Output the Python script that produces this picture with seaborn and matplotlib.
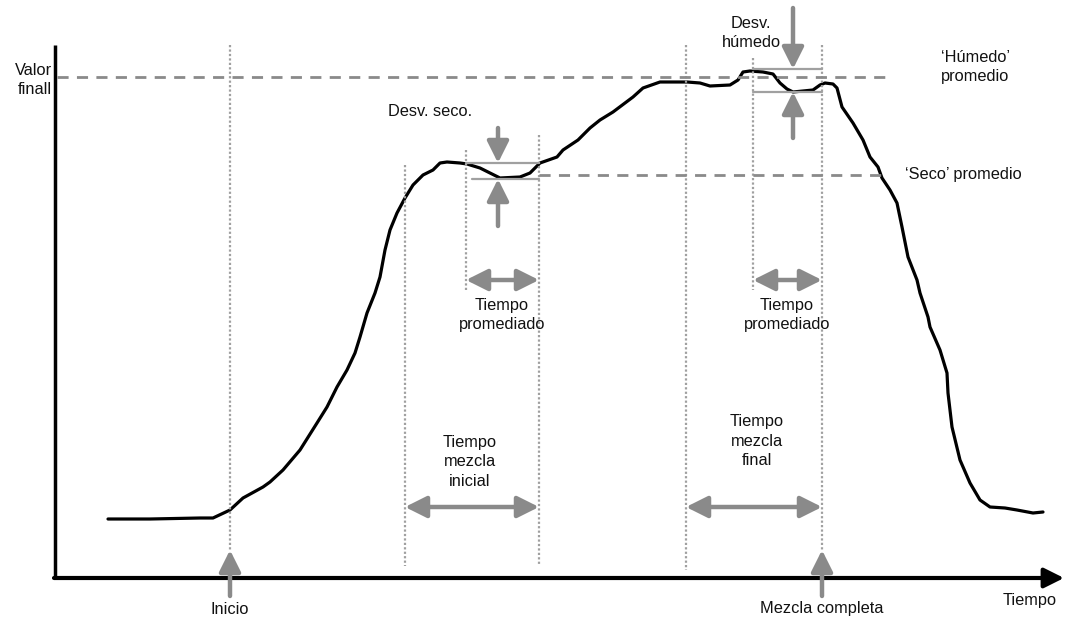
import numpy as np
import matplotlib
matplotlib.use("Agg")
import matplotlib.pyplot as plt
import seaborn as sns
import pandas as pd

# signal trace (pixel-like units, y grows downward)
tiempo = [108, 150, 200, 213, 230, 243, 263, 270, 283, 300, 317, 327, 337, 347, 355, 360,
          367, 375, 380, 385, 390, 397, 405, 413, 423, 433, 440, 447, 460, 467, 480, 500,
          520, 530, 540, 557, 563, 578, 590, 600, 613, 633, 643, 660, 687, 700, 710, 730,
          738, 743, 750, 763, 773, 780, 787, 793, 813, 820, 825, 833, 837, 842, 853, 863,
          870, 878, 882, 890, 897, 902, 908, 917, 920, 928, 930, 940, 947, 948, 952, 960,
          970, 980, 990, 1005, 1017, 1033, 1043]
valor = [519, 519, 518, 518, 510, 498, 487, 482, 470, 450, 423, 407, 387, 370, 353, 337,
         313, 293, 277, 250, 230, 213, 198, 185, 175, 170, 163, 162, 163, 164, 168, 178,
         177, 173, 163, 157, 150, 140, 128, 120, 112, 97, 88, 82, 82, 83, 86, 85,
         80, 72, 71, 72, 74, 83, 89, 92, 90, 85, 83, 84, 88, 107, 123, 140,
         157, 167, 178, 190, 203, 227, 257, 280, 293, 317, 327, 350, 373, 393, 427, 460,
         483, 500, 507, 508, 510, 513, 512]

# marker times (vertical guides) and levels
t_inicio, t_ini_a, t_seco_a, t_ini_b = 230, 405, 466, 539
t_fin_a, t_hum_a, t_completa = 686, 753, 822
nivel_humedo, nivel_seco = 77, 175
seco_max, seco_min = 163, 179
humedo_max, humedo_min = 69, 92

gris = "#8a8a8a"
gris_linea = "#a0a0a0"

sns.set_style("white")
plt.rcParams["font.family"] = ["Liberation Sans", "DejaVu Sans"]

fig = plt.figure(figsize=(10.69, 6.27), dpi=100)
ax = fig.add_axes([0, 0, 1, 1])
ax.set_xlim(0, 1069)
ax.set_ylim(627, 0)
ax.axis("off")

df = pd.DataFrame({"tiempo": tiempo, "valor": valor})
sns.lineplot(data=df, x="tiempo", y="valor", sort=False, estimator=None,
             color="black", lw=2.3, ax=ax)

# axes drawn as arrows
ax.plot([55, 55], [45, 579], color="black", lw=2.5, solid_capstyle="butt")
ax.annotate("", xy=(1064, 578), xytext=(54, 578),
            arrowprops=dict(arrowstyle="-|>,head_length=1.2,head_width=0.6",
                            color="black", lw=3, shrinkA=0, shrinkB=0))

# vertical dotted guides
guias = [(t_inicio, 45, 550), (t_ini_a, 165, 566), (t_seco_a, 150, 290),
         (t_ini_b, 135, 566), (t_fin_a, 45, 570), (t_hum_a, 58, 290),
         (t_completa, 45, 550)]
for x, y0, y1 in guias:
    ax.plot([x, x], [y0, y1], color=gris_linea, lw=1.6, ls=(0, (1, 1)))

# horizontal dashed averages
ax.plot([57, 888], [nivel_humedo, nivel_humedo], color=gris, lw=2, ls=(0, (4, 3)))
ax.plot([t_ini_b, 888], [nivel_seco, nivel_seco], color=gris, lw=2, ls=(0, (4, 3)))

# deviation bars
ax.plot([t_seco_a, t_ini_b], [seco_max, seco_max], color=gris_linea, lw=1.6)
ax.plot([472, t_ini_b], [seco_min, seco_min], color=gris_linea, lw=1.6)
ax.plot([t_hum_a, t_completa], [humedo_max, humedo_max], color=gris_linea, lw=1.6)
ax.plot([t_hum_a, t_completa], [humedo_min, humedo_min], color=gris_linea, lw=1.6)

flecha = dict(arrowstyle="-|>,head_length=1.3,head_width=0.65", color=gris,
              lw=3.2, shrinkA=0, shrinkB=0)
doble = dict(arrowstyle="<|-|>,head_length=1.3,head_width=0.65", color=gris,
             lw=3.2, shrinkA=0, shrinkB=0)

ax.annotate("", xy=(498, seco_max), xytext=(498, 128), arrowprops=flecha)
ax.annotate("", xy=(498, seco_min), xytext=(498, 226), arrowprops=flecha)
ax.annotate("", xy=(793, humedo_max), xytext=(793, 8), arrowprops=flecha)
ax.annotate("", xy=(793, humedo_min), xytext=(793, 138), arrowprops=flecha)
ax.annotate("", xy=(t_inicio, 550), xytext=(t_inicio, 596), arrowprops=flecha)
ax.annotate("", xy=(t_completa, 550), xytext=(t_completa, 596), arrowprops=flecha)

ax.annotate("", xy=(t_seco_a, 280), xytext=(t_ini_b, 280), arrowprops=doble)
ax.annotate("", xy=(t_hum_a, 280), xytext=(t_completa, 280), arrowprops=doble)
ax.annotate("", xy=(t_ini_a, 507), xytext=(t_ini_b, 507), arrowprops=doble)
ax.annotate("", xy=(t_fin_a, 507), xytext=(t_completa, 507), arrowprops=doble)

fs = 11.8
kw = dict(fontsize=fs, color="#111111", linespacing=1.35)
ax.text(52, 80, "Valor\nfinall", ha="right", va="center", **kw)
ax.text(430, 112, "Desv. seco.", ha="center", va="center", **kw)
ax.text(751, 33, "Desv.\nhúmedo", ha="center", va="center", **kw)
ax.text(975, 67, "\u2018Húmedo\u2019\npromedio", ha="center", va="center", **kw)
ax.text(905, 174, "\u2018Seco\u2019 promedio", ha="left", va="center", **kw)
ax.text(502, 315, "Tiempo\npromediado", ha="center", va="center", **kw)
ax.text(787, 315, "Tiempo\npromediado", ha="center", va="center", **kw)
ax.text(470, 462, "Tiempo\nmezcla\ninicial", ha="center", va="center", **kw)
ax.text(757, 441, "Tiempo\nmezcla\nfinal", ha="center", va="center", **kw)
ax.text(t_inicio, 609, "Inicio", ha="center", va="center", **kw)
ax.text(t_completa, 609, "Mezcla completa", ha="center", va="center", **kw)
ax.text(1030, 601, "Tiempo", ha="center", va="center", **kw)

fig.savefig("out.png", dpi=100)
